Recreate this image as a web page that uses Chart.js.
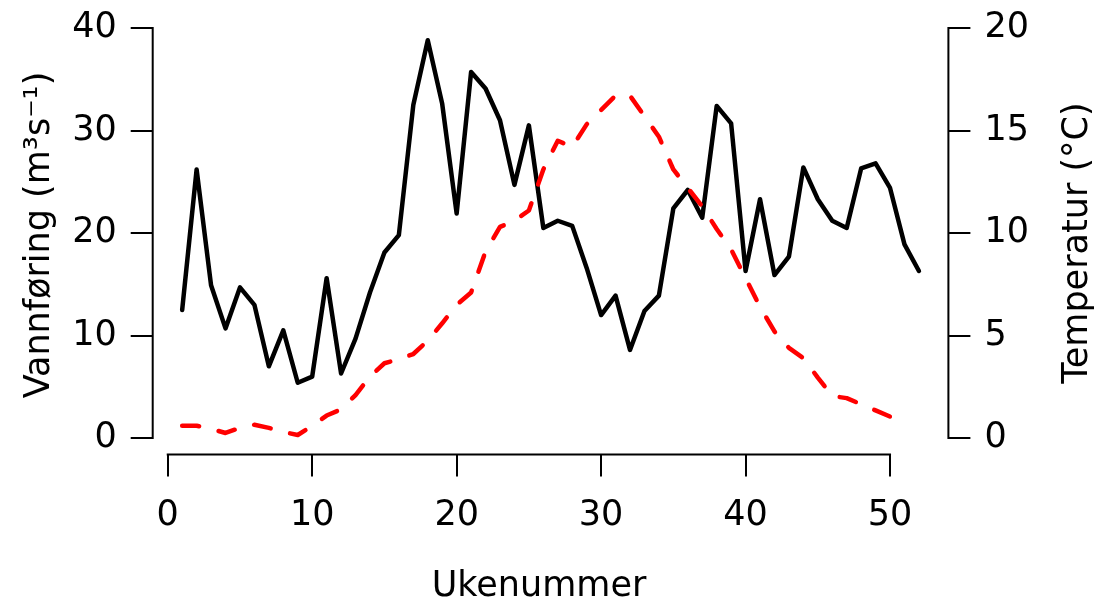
<!DOCTYPE html>
<html>
<head>
<meta charset="utf-8">
<script src="https://cdn.jsdelivr.net/npm/chart.js@4.4.1/dist/chart.umd.min.js"></script>
<style>
  html, body { margin: 0; padding: 0; background: #fff; }
  #wrap { width: 1099px; height: 598px; }
</style>
</head>
<body>
<div id="wrap"><canvas id="chart" width="1099" height="598"></canvas></div>
<script>
// week numbers on the x axis
const weeks = [1, 2, 3, 4, 5, 6, 7, 8, 9, 10, 11, 12, 13, 14, 15, 16, 17, 18, 19, 20,
    21, 22, 23, 24, 25, 26, 27, 28, 29, 30, 31, 32, 33, 34, 35, 36, 37, 38, 39, 40,
    41, 42, 43, 44, 45, 46, 47, 48, 49, 50, 51, 52];

// water flow (m3/s), left axis
const flow = [12.5, 26.2, 14.9, 10.7, 14.7, 13.0, 7.0, 10.5, 5.4, 6.0,
    15.6, 6.3, 9.7, 14.2, 18.1, 19.8, 32.5, 38.8, 32.6, 21.9,
    35.7, 34.1, 31.0, 24.7, 30.5, 20.5, 21.2, 20.7, 16.6, 12.0,
    13.9, 8.6, 12.4, 13.9, 22.4, 24.2, 21.5, 32.4, 30.7, 16.3,
    23.3, 15.9, 17.7, 26.4, 23.3, 21.2, 20.5, 26.3, 26.8, 24.4,
    18.9, 16.3];

// temperature (deg C), right axis - last week has no reading
const temperature = [0.6, 0.6, 0.45, 0.25, 0.5, 0.65, 0.5, 0.3, 0.15, 0.6,
    1.1, 1.4, 2.1, 3.0, 3.65, 3.85, 4.1, 4.75, 5.6, 6.5,
    7.1, 9.1, 10.3, 10.6, 11.1, 13.1, 14.5, 14.2, 15.3, 16.0,
    16.7, 16.7, 15.7, 14.7, 13.1, 12.2, 11.3, 10.2, 9.2, 7.8,
    6.4, 5.2, 4.4, 3.9, 2.95, 2.05, 1.95, 1.65, 1.35, 1.05,
    0.6];

// tick labels
const xTicks = [0, 10, 20, 30, 40, 50];
const flowTicks = [0, 10, 20, 30, 40];
const tempTicks = [0, 5, 10, 15, 20];

const FONT = 'DejaVu Sans';
const tickFont = { family: FONT, size: 35 };

// R style axes: line only between first and last tick, titles drawn by hand
const rAxes = {
    id: 'rAxes',
    afterDraw(chart) {
        const ctx = chart.ctx;
        const area = chart.chartArea;
        const { x, y, y2 } = chart.scales;
        ctx.save();
        ctx.strokeStyle = '#000';
        ctx.lineWidth = 2;
        ctx.beginPath();
        ctx.moveTo(x.getPixelForValue(xTicks[0]) - 1, area.bottom);
        ctx.lineTo(x.getPixelForValue(xTicks[xTicks.length - 1]) + 1, area.bottom);
        ctx.moveTo(area.left, y.getPixelForValue(flowTicks[0]) + 1);
        ctx.lineTo(area.left, y.getPixelForValue(flowTicks[flowTicks.length - 1]) - 1);
        ctx.moveTo(area.right, y2.getPixelForValue(tempTicks[0]) + 1);
        ctx.lineTo(area.right, y2.getPixelForValue(tempTicks[tempTicks.length - 1]) - 1);
        ctx.stroke();

        ctx.fillStyle = '#000';
        ctx.font = '35px "' + FONT + '"';
        ctx.textAlign = 'center';
        ctx.textBaseline = 'alphabetic';
        ctx.fillText('Ukenummer', 539, 596);

        ctx.textBaseline = 'middle';
        ctx.save();
        ctx.translate(40, 235);
        ctx.rotate(-Math.PI / 2);
        ctx.fillText('Vannføring (m³s⁻¹)', 0, 0);
        ctx.restore();

        ctx.save();
        ctx.translate(1078, 243);
        ctx.rotate(-Math.PI / 2);
        ctx.fillText('Temperatur (°C)', 0, 0);
        ctx.restore();
        ctx.restore();
    }
};

function axisGrid() {
    return { drawOnChartArea: false, drawTicks: true, tickLength: 22, color: '#000', lineWidth: 2 };
}

// fixed axis sizes, no extra room for overhanging labels
function fixSize(prop, val) {
    return (s) => {
        s[prop] = val;
        s.paddingTop = 0; s.paddingBottom = 0; s.paddingLeft = 0; s.paddingRight = 0;
    };
}

new Chart(document.getElementById('chart').getContext('2d'), {
    type: 'line',
    data: {
        datasets: [
            {
                label: 'Temperatur',
                data: temperature.map((t, i) => ({ x: weeks[i], y: t })),
                yAxisID: 'y2',
                borderColor: '#ff0000',
                borderWidth: 4.5,
                borderDash: [17, 20],
                borderCapStyle: 'round',
                borderJoinStyle: 'round',
                pointRadius: 0,
                tension: 0,
                order: 0
            },
            {
                label: 'Vannføring',
                data: flow.map((v, i) => ({ x: weeks[i], y: v })),
                yAxisID: 'y',
                borderColor: '#000000',
                borderWidth: 4.5,
                borderJoinStyle: 'round',
                borderCapStyle: 'round',
                pointRadius: 0,
                tension: 0,
                order: 1
            }
        ]
    },
    options: {
        responsive: false,
        animation: false,
        layout: { padding: { top: 11.6, left: 0, right: 0, bottom: 0 } },
        plugins: { legend: { display: false }, tooltip: { enabled: false } },
        scales: {
            x: {
                type: 'linear',
                min: -1.04,
                max: 54.04,
                afterBuildTicks: (s) => { s.ticks = xTicks.map(v => ({ value: v })); },
                afterFit: fixSize('height', 143.5),
                grid: axisGrid(),
                border: { display: false },
                ticks: { font: tickFont, color: '#000', padding: 18, maxRotation: 0, autoSkip: false }
            },
            y: {
                type: 'linear',
                position: 'left',
                min: -1.6,
                max: 41.6,
                afterBuildTicks: (s) => { s.ticks = flowTicks.map(v => ({ value: v })); },
                afterFit: fixSize('width', 152.7),
                grid: axisGrid(),
                border: { display: false },
                ticks: { font: tickFont, color: '#000', padding: 14, autoSkip: false }
            },
            y2: {
                type: 'linear',
                position: 'right',
                min: -0.8,
                max: 20.8,
                afterBuildTicks: (s) => { s.ticks = tempTicks.map(v => ({ value: v })); },
                afterFit: fixSize('width', 150.6),
                grid: axisGrid(),
                border: { display: false },
                ticks: { font: tickFont, color: '#000', padding: 14, autoSkip: false }
            }
        }
    },
    plugins: [rAxes]
});
</script>
</body>
</html>
